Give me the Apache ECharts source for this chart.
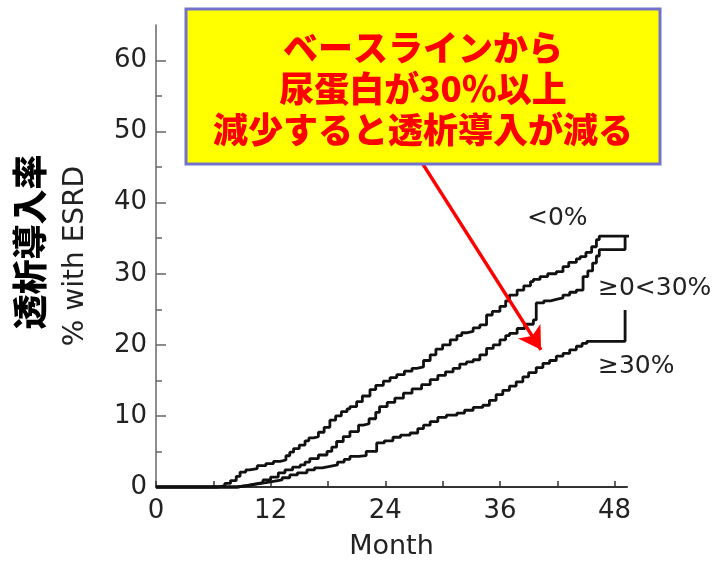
<!DOCTYPE html>
<html>
<head>
<meta charset="utf-8">
<script src="https://cdn.jsdelivr.net/npm/echarts@6/dist/echarts.min.js"></script>
<style>
  html, body { margin: 0; padding: 0; background: #fff; }
  #chart { width: 715px; height: 562px; }
</style>
</head>
<body>
<div id="chart"></div>
<script>
// 月 (Month) と % with ESRD, 図から読み取り
var lt0Month = [0, 5, 6.5, 7.2, 7.8, 8.4, 8.8, 9.4, 9.8, 10.6, 11.5, 12.3, 13.0, 13.6, 14.0, 14.4, 15.0, 15.6, 16.0, 16.5, 17.0, 17.6, 18.2, 18.8, 19.4, 20.0, 20.3, 21.0, 21.6, 22.4, 23.0, 23.8, 24.5, 25.2, 26.0, 26.8, 27.3, 28.0, 28.7, 29.3, 30.0, 30.8, 31.5, 32.0, 32.5, 33.2, 33.9, 34.6, 35.2, 36.0, 36.6, 37.0, 37.8, 38.5, 39.2, 39.5, 40.2, 41.0, 41.9, 42.6, 43.2, 44.0, 44.4, 45.0, 45.6, 46.1, 46.4, 50.0, 50.0];
var lt0Value = [0, 0, 0.2, 0.5, 0.9, 1.5, 2.1, 2.4, 2.6, 3.0, 3.3, 3.6, 3.8, 4.4, 4.9, 5.4, 5.9, 6.5, 6.9, 7.1, 7.7, 8.4, 9.4, 10.0, 10.6, 11.0, 11.3, 12.0, 12.8, 13.7, 14.3, 14.9, 15.4, 15.8, 16.3, 16.7, 16.9, 17.8, 18.6, 19.4, 20.0, 20.7, 21.3, 21.7, 21.9, 22.4, 22.8, 24.2, 24.7, 25.4, 26.2, 27.0, 27.7, 28.3, 28.9, 29.2, 29.6, 30.0, 30.3, 31.0, 31.6, 32.1, 32.4, 33.0, 33.8, 34.8, 35.3, 35.3, 37.8];

var mid30Month = [0, 7, 8.5, 9.5, 10.3, 11.2, 12.0, 12.8, 13.5, 14.3, 15.1, 15.6, 16.1, 17.0, 17.9, 18.4, 18.9, 19.6, 20.3, 21.2, 21.7, 22.3, 23.0, 23.4, 24.2, 25.0, 25.9, 26.8, 27.8, 28.7, 29.5, 30.3, 31.1, 31.8, 32.5, 33.2, 33.9, 34.6, 35.3, 36.0, 36.6, 37.0, 37.8, 38.6, 39.5, 39.8, 40.6, 41.3, 41.9, 42.6, 43.3, 44.0, 44.7, 45.2, 45.7, 46.1, 46.4, 49.1, 49.1];
var mid30Value = [0, 0, 0.2, 0.4, 0.6, 1.0, 1.4, 2.0, 2.4, 2.8, 3.1, 3.5, 4.0, 4.5, 5.0, 5.6, 6.4, 7.1, 7.8, 8.7, 8.9, 9.6, 10.5, 11.3, 11.9, 12.5, 13.2, 13.8, 14.4, 15.1, 15.7, 16.2, 16.7, 17.3, 17.6, 17.9, 18.6, 19.5, 20.0, 20.7, 21.3, 21.6, 22.3, 22.9, 23.5, 25.9, 26.2, 26.4, 26.6, 27.0, 27.4, 27.7, 29.6, 30.4, 31.5, 32.5, 33.4, 33.4, 35.3];

var ge30Month = [0, 7, 8.5, 9.5, 10.5, 11.5, 12.3, 13.2, 14.0, 14.8, 15.8, 16.6, 17.4, 18.2, 19.0, 19.7, 20.3, 21.2, 22.0, 23.1, 23.9, 24.8, 25.6, 26.6, 27.4, 28.0, 28.7, 29.5, 30.4, 31.5, 32.3, 33.2, 34.2, 34.9, 35.6, 36.3, 37.0, 37.7, 38.4, 39.0, 39.8, 40.5, 41.2, 41.9, 42.6, 43.3, 44.0, 44.6, 45.1, 49.1, 49.1];
var ge30Value = [0, 0, 0.2, 0.4, 0.6, 0.8, 1.0, 1.3, 1.7, 2.0, 2.4, 2.7, 2.9, 3.1, 3.5, 3.9, 4.3, 4.4, 5.0, 6.2, 6.5, 7.0, 7.3, 7.6, 8.2, 8.7, 9.2, 9.8, 10.1, 10.4, 10.8, 11.2, 11.5, 12.2, 13.0, 13.6, 14.2, 14.8, 15.5, 16.1, 16.8, 17.4, 17.8, 18.4, 18.8, 19.3, 19.8, 20.2, 20.5, 20.5, 24.9];

var seriesNames = ['<0%', '≥0<30%', '≥30%'];
var xLabelTicks = [0, 12, 24, 36, 48];
var xMinorTicks = [0, 6, 12, 18, 24, 30, 36, 42, 48];
var yLabelTicks = [0, 10, 20, 30, 40, 50, 60];
var yMinorTicks = [5, 15, 25, 35, 45, 55];
var noteLines = ['ベースラインから', '尿蛋白が30％以上', '減少すると透析導入が減る'];

function pairs(xs, ys) {
	var out = [];
	for (var i = 0; i < xs.length; i++) out.push([xs[i], ys[i]]);
	return out;
}

var myChart = echarts.init(document.getElementById('chart'));

var axisFont = {
	fontFamily: 'DejaVu Sans',
	fontSize: 26,
	color: '#222'
};

function kmSeries(name, data) {
	return {
		name: name,
		type: 'line',
		step: 'end',
		symbol: 'none',
		clip: false,
		lineStyle: { color: '#111', width: 2.8 },
		data: data
	};
}

var series = [
	kmSeries(seriesNames[0], pairs(lt0Month, lt0Value)),
	kmSeries(seriesNames[1], pairs(mid30Month, mid30Value)),
	kmSeries(seriesNames[2], pairs(ge30Month, ge30Value))
];

// 赤い矢印
series[0].markLine = {
	silent: true,
	symbol: ['none', 'arrow'],
	symbolSize: [20, 22],
	label: { show: false },
	lineStyle: { color: '#ff0000', width: 3.5, type: 'solid' },
	data: [[{ coord: [27.9, 45.5] }, { coord: [40.3, 19.3] }]]
};

var option = {
	backgroundColor: '#fff',
	animation: false,
	grid: {
		left: 156,
		right: 88,
		top: 25,
		bottom: 75,
		outerBoundsMode: 'none'
	},
	xAxis: {
		type: 'value',
		min: 0,
		max: 49.3,
		name: 'Month',
		nameLocation: 'middle',
		nameGap: 46,
		nameTextStyle: { fontFamily: 'DejaVu Sans', fontSize: 27, color: '#222' },
		axisLine: { lineStyle: { color: '#333', width: 2 } },
		axisTick: { inside: true, length: 6, customValues: xMinorTicks, lineStyle: { color: '#333', width: 1.5 } },
		axisLabel: Object.assign({ margin: 11, customValues: xLabelTicks }, axisFont),
		splitLine: { show: false }
	},
	yAxis: [{
		type: 'value',
		min: 0,
		max: 65,
		name: '% with ESRD',
		nameLocation: 'middle',
		nameGap: 66,
		nameRotate: 90,
		nameTextStyle: { fontFamily: 'DejaVu Sans', fontSize: 28, color: '#222' },
		axisLine: { lineStyle: { color: '#666', width: 1.5 } },
		axisTick: { inside: true, length: 10, customValues: yLabelTicks, lineStyle: { color: '#666', width: 1.5 } },
		axisLabel: Object.assign({ margin: 9, customValues: yLabelTicks }, axisFont),
		splitLine: { show: false }
	}, {
		type: 'value',
		min: 0,
		max: 65,
		position: 'left',
		axisLine: { show: false },
		axisTick: { show: true, inside: true, length: 6, customValues: yMinorTicks, lineStyle: { color: '#666', width: 1.5 } },
		axisLabel: { show: false },
		splitLine: { show: false }
	}],
	graphic: [
		{
			type: 'text',
			x: 30, y: 242,
			rotation: Math.PI / 2,
			style: {
				text: '透析導入率',
				font: '900 35px "Noto Sans CJK JP"',
				fill: '#000',
				align: 'center',
				verticalAlign: 'middle'
			}
		},
		{
			type: 'rect',
			shape: { x: 186, y: 9, width: 474, height: 155 },
			style: { fill: '#ffff00', stroke: '#7272cc', lineWidth: 3 },
			z: 10
		},
		{
			type: 'text', x: 423, y: 48, z: 11,
			style: { text: noteLines[0], font: '900 35px "Noto Sans CJK JP"', fill: '#ff0000', align: 'center', verticalAlign: 'middle' }
		},
		{
			type: 'text', x: 423, y: 89, z: 11,
			style: { text: noteLines[1], font: '900 35px "Noto Sans CJK JP"', fill: '#ff0000', align: 'center', verticalAlign: 'middle' }
		},
		{
			type: 'text', x: 423, y: 130, z: 11,
			style: { text: noteLines[2], font: '900 35px "Noto Sans CJK JP"', fill: '#ff0000', align: 'center', verticalAlign: 'middle' }
		},
		{
			type: 'text', x: 527, y: 218,
			style: { text: seriesNames[0], font: '25px "DejaVu Sans"', fill: '#222', align: 'left', verticalAlign: 'middle' }
		},
		{
			type: 'text', x: 598, y: 288,
			style: { text: seriesNames[1], font: '25px "DejaVu Sans"', fill: '#222', align: 'left', verticalAlign: 'middle' }
		},
		{
			type: 'text', x: 598, y: 366,
			style: { text: seriesNames[2], font: '25px "DejaVu Sans"', fill: '#222', align: 'left', verticalAlign: 'middle' }
		}
	],
	series: series
};

myChart.setOption(option, true);
</script>
</body>
</html>
